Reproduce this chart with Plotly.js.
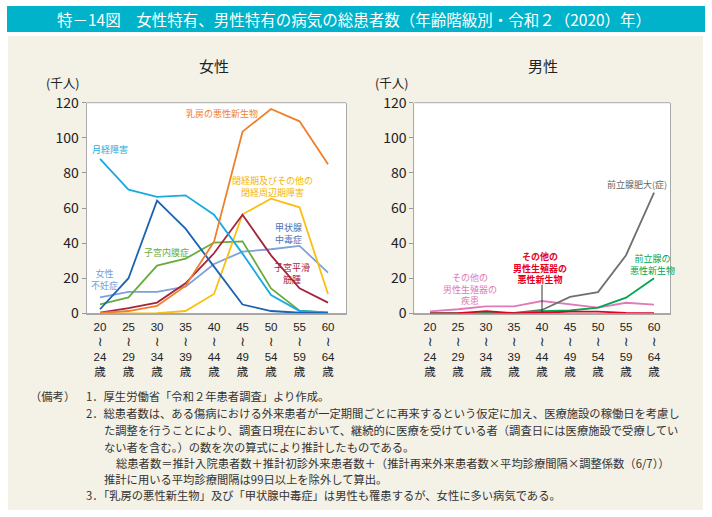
<!DOCTYPE html>
<html>
<head>
<meta charset="utf-8">
<script src="https://cdn.plot.ly/plotly-3.0.1.min.js"></script>
<style>
html,body{margin:0;padding:0;background:#fff;}
#chart{width:712px;height:517px;}
</style>
</head>
<body>
<div id="chart"></div>
<script>
// ---- Data ----
const ageStart = ['20','25','30','35','40','45','50','55','60'];
const ageEnd   = ['24','29','34','39','44','49','54','59','64'];
const ageSep   = '≀';
const ageUnit  = '歳';

// Female (thousand persons)
const menstrualDisorder = [88, 70.5, 66.3, 67.2, 56.2, 34, 10.4, 1.3, 0.5];
const femaleInfertility = [2.3, 20, 64.2, 48.2, 26.6, 5, 1.3, 0.3, 0.1];
const thyrotoxicosis    = [9.1, 12.2, 12.2, 15.2, 28.1, 35.1, 36.5, 38.4, 23.2];
const endometriosis     = [5.1, 9.1, 27.2, 31.1, 40.3, 41, 14.2, 1.5, 0.4];
const breastCancer      = [0.2, 1.3, 4.2, 15.6, 40.8, 103.5, 116.4, 109.4, 85];
const menopausalDisorder= [0, 0, 0.1, 1.3, 11, 56.4, 65.3, 60.4, 11];
const uterineFibroid    = [0.4, 3, 6.1, 17.1, 34.2, 56.2, 33, 14.2, 6.1];

// Male (thousand persons)
const prostaticHyperplasia = [0, 0, 0, 0.2, 1.9, 9.3, 12.1, 33.1, 68.8];
const prostateCancer       = [0, 0, 0, 0.1, 1.2, 1.6, 3.2, 8.9, 20];
const otherMaleGenitalDis  = [1.1, 2.3, 4, 4, 7, 5, 3.2, 6, 5];
const otherMaleGenitalCa   = [0, 0.1, 1.2, 0.1, 0.3, 1, 1, 0.2, 0.1];

// ---- Helpers (pixel -> paper) ----
const W = 712, H = 517;
const px = x => x / W;
const py = y => 1 - y / H;
const idx = ageStart.map((_, i) => i);
const FONT = '"Noto Sans CJK JP", "Noto Sans", sans-serif';

// multi-line age tick labels built from the arrays
const ageTicks = idx.map(i =>
  ageStart[i] + '<br><span style="font-family:\'DejaVu Sans\';font-size:13px">' + ageSep + '</span><br>' +
  ageEnd[i] + '<br>' + ageUnit);

function line(y, color, xa, ya) {
  return {x: idx, y: y, type: 'scatter', mode: 'lines',
          line: {color: color, width: 1.8}, xaxis: xa, yaxis: ya,
          hoverinfo: 'skip', cliponaxis: false};
}

const traces = [
  line(thyrotoxicosis, '#7fa0d8', 'x', 'y'),
  line(endometriosis, '#6aab3d', 'x', 'y'),
  line(menopausalDisorder, '#fbbf10', 'x', 'y'),
  line(uterineFibroid, '#a5243e', 'x', 'y'),
  line(menstrualDisorder, '#1aaae2', 'x', 'y'),
  line(femaleInfertility, '#1b62b3', 'x', 'y'),
  line(breastCancer, '#ef7f2b', 'x', 'y'),
  line(otherMaleGenitalDis, '#e07ab8', 'x2', 'y2'),
  line(prostaticHyperplasia, '#707070', 'x2', 'y2'),
  line(prostateCancer, '#00a650', 'x2', 'y2'),
  line(otherMaleGenitalCa, '#e60020', 'x2', 'y2')
];

const annotations = [];
function ann(o) { annotations.push(Object.assign({showarrow: false}, o)); }

// Title
ann({xref: 'paper', yref: 'paper', x: px(354), y: py(19), xanchor: 'center', yanchor: 'middle',
     text: '特－14図　女性特有、男性特有の病気の総患者数（年齢階級別・令和２（2020）年）',
     font: {family: FONT, size: 15.5, color: '#ffffff'}});
// Panel titles
ann({xref: 'paper', yref: 'paper', x: px(214), y: py(66), xanchor: 'center', yanchor: 'middle',
     text: '女性', font: {family: FONT, size: 15, color: '#222'}});
ann({xref: 'paper', yref: 'paper', x: px(543), y: py(66), xanchor: 'center', yanchor: 'middle',
     text: '男性', font: {family: FONT, size: 15, color: '#222'}});
// Units
ann({xref: 'paper', yref: 'paper', x: px(63), y: py(82), xanchor: 'center', yanchor: 'middle',
     text: '(千人)', font: {family: FONT, size: 12.5, color: '#222'}});
ann({xref: 'paper', yref: 'paper', x: px(391), y: py(82), xanchor: 'center', yanchor: 'middle',
     text: '(千人)', font: {family: FONT, size: 12.5, color: '#222'}});

// Series labels (female)
const LF = 9;
ann({xref: 'x', yref: 'y', x: 4.27, y: 114, text: '乳房の悪性新生物', font: {family: FONT, size: LF, color: '#ef7f2b'}});
ann({xref: 'x', yref: 'y', x: 0.35, y: 93.4, text: '月経障害', font: {family: FONT, size: LF, color: '#1aaae2'}});
ann({xref: 'x', yref: 'y', x: 6.05, y: 72.1, text: '閉経期及びその他の<br>閉経周辺期障害', font: {family: FONT, size: LF, color: '#f4b400'}});
ann({xref: 'x', yref: 'y', x: 6.6, y: 45.2, text: '甲状腺<br>中毒症', font: {family: FONT, size: LF, color: '#4a72b8'}});
ann({xref: 'x', yref: 'y', x: 2.32, y: 34.5, text: '子宮内膜症', font: {family: FONT, size: LF, color: '#6aab3d'}});
ann({xref: 'x', yref: 'y', x: 0.14, y: 19.5, text: '女性<br>不妊症', font: {family: FONT, size: LF, color: '#6fa3d8'}});
ann({xref: 'x', yref: 'y', x: 6.74, y: 22.6, text: '子宮平滑<br>筋腫', font: {family: FONT, size: LF, color: '#a5243e'}});
// Series labels (male)
ann({xref: 'x2', yref: 'y2', x: 7.39, y: 73.5, text: '前立腺肥大(症)', font: {family: FONT, size: LF, color: '#666'}});
ann({xref: 'x2', yref: 'y2', x: 7.95, y: 27.7, text: '前立腺の<br>悪性新生物', font: {family: FONT, size: LF, color: '#00a650'}});
ann({xref: 'x2', yref: 'y2', x: 3.94, y: 25.8, text: '<b>その他の<br>男性生殖器の<br>悪性新生物</b>', font: {family: FONT, size: LF, color: '#e60020'}});
ann({xref: 'x2', yref: 'y2', x: 1.43, y: 14, text: 'その他の<br>男性生殖器の<br>疾患', font: {family: FONT, size: LF, color: '#e07ab8'}});

// Notes
const NF = 11.3, NC = '#333';
function note(x, y, t) {
  ann({xref: 'paper', yref: 'paper', x: px(x), y: py(y), xanchor: 'left', yanchor: 'middle', align: 'left',
       text: t, font: {family: FONT, size: NF, color: NC}});
}
note(28, 396, '（備考）');
note(84, 396, '1．厚生労働省「令和２年患者調査」より作成。');
note(84, 413, '2．総患者数は、ある傷病における外来患者が一定期間ごとに再来するという仮定に加え、医療施設の稼働日を考慮し');
note(102, 430, 'た調整を行うことにより、調査日現在において、継続的に医療を受けている者（調査日には医療施設で受療してい');
note(102, 447, 'ない者を含む。）の数を次の算式により推計したものである。');
note(114, 463, '総患者数＝推計入院患者数＋推計初診外来患者数＋（推計再来外来患者数×平均診療間隔×調整係数（6/7））');
note(102, 479, '推計に用いる平均診療間隔は99日以上を除外して算出。');
note(84, 495, '3．「乳房の悪性新生物」及び「甲状腺中毒症」は男性も罹患するが、女性に多い病気である。');

const shapes = [
  {type: 'rect', xref: 'paper', yref: 'paper', x0: px(8), x1: px(703), y0: py(510), y1: py(36),
   fillcolor: '#f4f1e6', line: {width: 0}, layer: 'below'},
  {type: 'rect', xref: 'paper', yref: 'paper', x0: px(7), x1: px(705), y0: py(32), y1: py(6),
   fillcolor: '#00b3ca', line: {width: 0}, layer: 'below'},
  {type: 'rect', xref: 'x domain', yref: 'y domain', x0: 0, x1: 1, y0: 0, y1: 1,
   fillcolor: '#ffffff', line: {width: 0}, layer: 'below'},
  {type: 'rect', xref: 'x2 domain', yref: 'y2 domain', x0: 0, x1: 1, y0: 0, y1: 1,
   fillcolor: '#ffffff', line: {width: 0}, layer: 'below'},
  {type: 'line', xref: 'x domain', yref: 'y domain', x0: 0, x1: 1, y0: 1, y1: 1,
   line: {color: '#a8a8a8', width: 1}},
  {type: 'line', xref: 'x2 domain', yref: 'y2 domain', x0: 0, x1: 1, y0: 1, y1: 1,
   line: {color: '#a8a8a8', width: 1}},
  // leader line for "その他の男性生殖器の悪性新生物"
  {type: 'line', xref: 'x2', yref: 'y2', x0: 4, x1: 4, y0: 0.3, y1: 16.2,
   line: {color: '#333', width: 1}}
];

function xaxis(domain, range, anchor) {
  return {domain: domain, range: range, anchor: anchor, tickmode: 'array', tickvals: idx, ticktext: ageTicks,
          ticks: '', showgrid: false, zeroline: false, showline: true, linecolor: '#a8a8a8', linewidth: 2,
          ticklabelstandoff: 2,
          layer: 'below traces', tickfont: {family: '"Liberation Sans", "Noto Sans CJK JP", sans-serif', size: 11.5, color: '#222'},
          fixedrange: true};
}
function yaxis(domain, anchor) {
  return {domain: domain, range: [0, 120], anchor: anchor, tickmode: 'linear', tick0: 0, dtick: 20,
          ticks: 'outside', ticklen: 4, tickcolor: '#999', showgrid: false, zeroline: false,
          showline: true, mirror: true, linecolor: '#a8a8a8', linewidth: 1, layer: 'below traces',
          tickfont: {family: FONT, size: 14, color: '#222'}, fixedrange: true};
}

const layout = {
  width: W, height: H, margin: {l: 0, r: 0, t: 0, b: 0},
  paper_bgcolor: '#ffffff', plot_bgcolor: '#ffffff', showlegend: false,
  font: {family: FONT},
  xaxis: xaxis([px(86.7), px(346)], [-0.467, 8.63], 'y'),
  yaxis: yaxis([py(313.3), py(102.7)], 'x'),
  xaxis2: xaxis([px(414.3), px(670)], [-0.56, 8.57], 'y2'),
  yaxis2: yaxis([py(313.3), py(102.7)], 'x2'),
  annotations: annotations,
  shapes: shapes
};

Plotly.newPlot('chart', traces, layout, {staticPlot: true, displayModeBar: false});
</script>
</body>
</html>
